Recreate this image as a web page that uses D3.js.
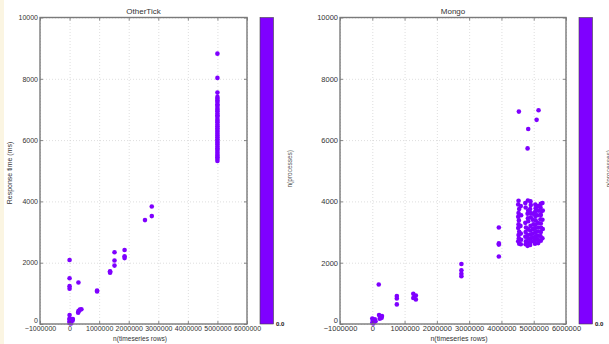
<!DOCTYPE html>
<html>
<head>
<meta charset="utf-8">
<script src="https://cdn.jsdelivr.net/npm/d3@7"></script>
<style>
  body { margin: 0; background: #fff; }
  svg text { font-family: "Liberation Sans", Arial, sans-serif; }
</style>
</head>
<body>
<svg id="chart" width="609" height="344"></svg>
<script>
// values: [n(timeseries rows), response time (ms)]
const otherTickPoints = [
  [0, 2090], [0, 1495], [0, 1235], [0, 1150], [0, 290], [0, 180], [0, 150], [0, 90], [0, 30],
  [20000, 60], [50000, 20], [90000, 150], [100000, 110], [110000, 160],
  [300000, 1355], [290000, 370], [300000, 420], [350000, 470], [330000, 440], [400000, 480],
  [930000, 1095], [930000, 1060],
  [1370000, 1720], [1370000, 1670], [1370000, 1700],
  [1520000, 2340], [1520000, 2070], [1520000, 1905],
  [1860000, 2415], [1860000, 2210], [1860000, 2150],
  [2550000, 3390], [2780000, 3835], [2780000, 3520],
  [5000000, 8820], [5000000, 8030], [5000000, 7550], [5000000, 7410], [5000000, 7350],
  [5000000, 7290], [5000000, 7240], [5000000, 7170], [5000000, 7120], [5000000, 7050],
  [5000000, 6990], [5000000, 6940], [5000000, 6870], [5000000, 6810], [5000000, 6760],
  [5000000, 6690], [5000000, 6630], [5000000, 6580], [5000000, 6510], [5000000, 6450],
  [5000000, 6390], [5000000, 6330], [5000000, 6270], [5000000, 6210], [5000000, 6150],
  [5000000, 6090], [5000000, 6030], [5000000, 5970], [5000000, 5910], [5000000, 5860],
  [5000000, 5790], [5000000, 5730], [5000000, 5680], [5000000, 5610], [5000000, 5550],
  [5000000, 5490], [5000000, 5440], [5000000, 5380], [5000000, 5320]
];

const mongoPoints = [
  [0, 180], [20000, 120], [50000, 60], [80000, 150], [100000, 90], [30000, 20], [0, 40],
  [200000, 1290], [210000, 290], [250000, 240], [290000, 200], [230000, 170], [300000, 260],
  [760000, 910], [760000, 830], [760000, 640],
  [1270000, 985], [1350000, 930], [1270000, 850], [1350000, 800], [1300000, 880],
  [2760000, 1960], [2760000, 1750], [2760000, 1640], [2760000, 1560],
  [3920000, 3150], [3920000, 2630], [3920000, 2590], [3920000, 2200],
  [4540000, 6930], [5150000, 6975], [5090000, 6660], [4830000, 6360], [4810000, 5730],
  [4530000, 4020], [4520000, 3900], [4550000, 3750], [4530000, 3620], [4520000, 3500],
  [4540000, 3380], [4530000, 3250], [4520000, 3130], [4550000, 3010], [4530000, 2900],
  [4540000, 2800], [4520000, 2700], [4550000, 2620],
  [4600000, 3850], [4610000, 3550], [4590000, 3200], [4600000, 2950], [4610000, 2750], [4600000, 2600],
  [4740000, 3950], [4750000, 3800], [4740000, 3300], [4760000, 3150], [4750000, 3000],
  [4740000, 2850], [4760000, 2700], [4750000, 2600],
  [4820000, 4030], [4830000, 3700], [4810000, 3600], [4820000, 3450], [4830000, 3350],
  [4820000, 3100], [4810000, 2900], [4830000, 2780], [4820000, 2650], [4810000, 2550],
  [4900000, 4000], [4910000, 3880], [4890000, 3750], [4900000, 3620], [4910000, 3480],
  [4900000, 3200], [4890000, 3050], [4900000, 2920], [4910000, 2800], [4900000, 2680], [4890000, 2580],
  [4980000, 3600], [4970000, 3400], [4990000, 3250], [4980000, 3100], [4970000, 2950],
  [4980000, 2820], [4990000, 2700],
  [5050000, 3900], [5060000, 3780], [5040000, 3650], [5050000, 3520], [5060000, 3380],
  [5050000, 3240], [5040000, 3120], [5050000, 2990], [5060000, 2860], [5050000, 2740], [5040000, 2620],
  [5130000, 3850], [5140000, 3700], [5120000, 3550], [5130000, 3300], [5140000, 3150],
  [5130000, 3020], [5120000, 2880], [5130000, 2760], [5140000, 2640],
  [5220000, 3920], [5210000, 3800], [5230000, 3680], [5220000, 3560], [5210000, 3420],
  [5220000, 3280], [5230000, 3140], [5220000, 3000], [5210000, 2870], [5220000, 2720],
  [5270000, 3950], [5280000, 3700], [5270000, 3400], [5280000, 3100], [5270000, 2800]
];

const xTicks = [-1000000, 0, 1000000, 2000000, 3000000, 4000000, 5000000, 6000000];
const yTicks = [0, 2000, 4000, 6000, 8000, 10000];
const panelTitles = ["OtherTick", "Mongo"];
const xLabel = "n(timeseries rows)";
const yLabel = "Response time (ms)";
const cbarLabel = "n(processes)";
const cbarTickLabel = "0.0";

const svg = d3.select("#chart");
const dotColor = "#7f00ff";
const frameColor = "#7a7a7a";

// faint cream strip at the left edge of the scan
svg.append("rect").attr("x", 0).attr("y", 0).attr("width", 4).attr("height", 344)
  .attr("fill", "#fbf5e2");

function drawPanel(p) {
  const x = d3.scaleLinear().domain([-1000000, 6000000]).range([p.left, p.right]);
  const y = d3.scaleLinear().domain([0, 10000]).range([p.bottom, p.top]);
  const w = p.right - p.left, h = p.bottom - p.top;
  const g = svg.append("g");

  // grid
  g.append("g").attr("transform", `translate(0,${p.bottom})`)
    .call(d3.axisBottom(x).tickValues(xTicks).tickSize(-h).tickFormat(""))
    .call(s => s.select(".domain").remove())
    .selectAll("line").attr("stroke", "#c8c8c8").attr("stroke-width", 0.6).attr("stroke-dasharray", "1,2");
  g.append("g").attr("transform", `translate(${p.left},0)`)
    .call(d3.axisLeft(y).tickValues(yTicks).tickSize(-w).tickFormat(""))
    .call(s => s.select(".domain").remove())
    .selectAll("line").attr("stroke", "#c8c8c8").attr("stroke-width", 0.6).attr("stroke-dasharray", "1,2");

  // points
  g.append("g").selectAll("circle")
    .data(p.points)
    .enter().append("circle")
    .attr("cx", d => x(d[0]))
    .attr("cy", d => y(d[1]))
    .attr("r", 2.3)
    .attr("fill", dotColor);

  // axes with inward ticks
  const bottomAx = g.append("g").attr("transform", `translate(0,${p.bottom})`)
    .call(d3.axisBottom(x).tickValues(xTicks).tickSize(-3).tickPadding(2).tickFormat(d3.format("d")));
  const leftAx = g.append("g").attr("transform", `translate(${p.left},0)`)
    .call(d3.axisLeft(y).tickValues(yTicks).tickSize(-3).tickPadding(2).tickFormat(d3.format("d")));
  g.append("g").attr("transform", `translate(0,${p.top})`)
    .call(d3.axisTop(x).tickValues(xTicks).tickSize(-3).tickFormat(""));
  g.append("g").attr("transform", `translate(${p.right},0)`)
    .call(d3.axisRight(y).tickValues(yTicks).tickSize(-3).tickFormat(""));
  g.selectAll(".domain").remove();
  g.selectAll(".tick line").filter(function () { return !this.getAttribute("stroke-dasharray"); })
    .attr("stroke", "#555").attr("stroke-width", 0.7);
  [bottomAx, leftAx].forEach(a => a.selectAll("text")
    .attr("fill", "#333").style("font-size", p.tickFont + "px"));
  // the y "0" sits just above the x labels, as in the original
  leftAx.selectAll(".tick text").filter(d => d === 0).attr("dy", "-0.15em");

  g.append("rect")
    .attr("x", p.left).attr("y", p.top).attr("width", w).attr("height", h)
    .attr("fill", "none").attr("stroke", frameColor).attr("stroke-width", 1.4);

  // title and labels
  g.append("text").attr("x", (p.left + p.right) / 2).attr("y", p.top - 4)
    .attr("text-anchor", "middle").attr("fill", "#333").style("font-size", "8px")
    .text(p.title);
  g.append("text").attr("x", p.xLabelX).attr("y", 341)
    .attr("text-anchor", "middle").attr("fill", "#333").style("font-size", p.xLabelFont + "px")
    .text(xLabel);

  // colorbar
  g.append("rect")
    .attr("x", p.cbarX).attr("y", p.top).attr("width", 13.5).attr("height", h)
    .attr("fill", dotColor).attr("stroke", "#444").attr("stroke-width", 0.6);
  g.append("text").attr("x", p.cbarX + 16).attr("y", p.bottom + 2)
    .attr("fill", "#111").style("font-size", "6px").style("font-weight", "bold")
    .text(cbarTickLabel);
  g.append("text")
    .attr("transform", `translate(${p.cbarLabelX},${(p.top + p.bottom) / 2 - 2}) rotate(-90)`)
    .attr("text-anchor", "middle").attr("fill", "#555").style("font-size", "6.5px")
    .text(cbarLabel);
}

drawPanel({
  title: panelTitles[0], points: otherTickPoints,
  left: 40, right: 247, top: 17.5, bottom: 324,
  cbarX: 260, cbarLabelX: 292, xLabelX: 140, tickFont: 7, xLabelFont: 6.6
});
drawPanel({
  title: panelTitles[1], points: mongoPoints,
  left: 340, right: 566, top: 17.5, bottom: 324,
  cbarX: 579, cbarLabelX: 611, xLabelX: 459, tickFont: 7.5, xLabelFont: 7
});

svg.append("text")
  .attr("transform", "translate(12,173) rotate(-90)")
  .attr("text-anchor", "middle").attr("fill", "#333").style("font-size", "7px")
  .text(yLabel);
</script>
</body>
</html>
